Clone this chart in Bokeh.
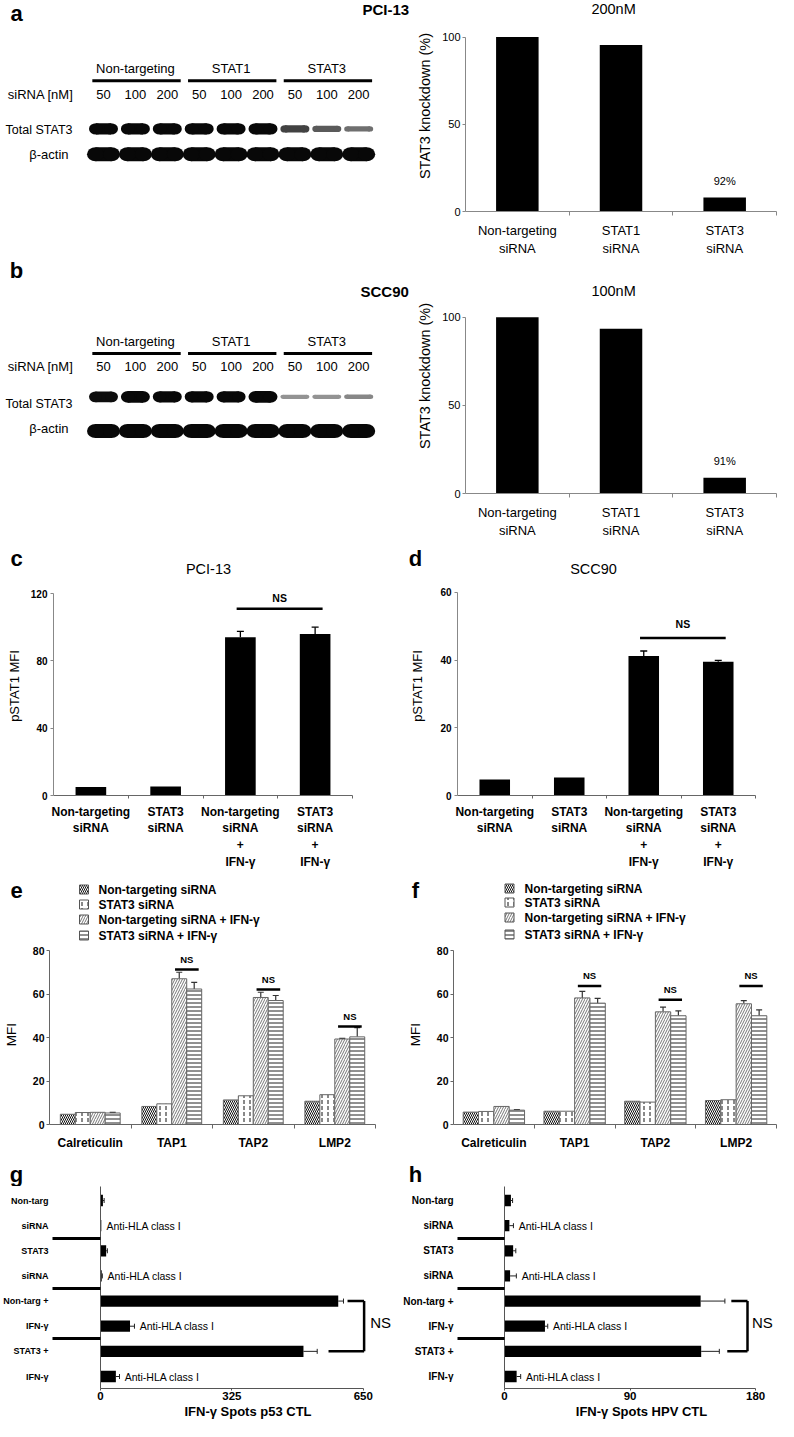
import numpy as np
from bokeh.plotting import figure
from bokeh.layouts import column, row
from bokeh.models import Range1d, FixedTicker, ColumnDataSource, Whisker, TeeHead
from bokeh.core.properties import value
from bokeh.embed import file_html
from bokeh.resources import INLINE

FONT = "Liberation Sans"

# ====================== DATA ======================
blot_groups = ["Non-targeting", "STAT1", "STAT3"]
blot_doses = ["50", "100", "200"]
a_stat3_band = [1.0, 1.0, 1.0, 1.0, 1.0, 1.0, 0.55, 0.42, 0.32]
a_actin_band = [1.0, 1.0, 1.0, 1.0, 1.0, 1.0, 1.0, 1.0, 1.0]
b_stat3_band = [0.9, 1.0, 0.95, 0.95, 0.95, 1.0, 0.18, 0.18, 0.22]
b_actin_band = [1.0, 1.0, 1.0, 1.0, 1.0, 1.0, 1.0, 1.0, 1.0]

kd_labels = ["Non-targeting\nsiRNA", "STAT1\nsiRNA", "STAT3\nsiRNA"]
a_kd = [100.0, 95.5, 8.0]
b_kd = [100.0, 93.5, 9.0]

mfi_labels = ["Non-targeting\nsiRNA", "STAT3\nsiRNA",
              "Non-targeting\nsiRNA\n+\nIFN-\u03b3", "STAT3\nsiRNA\n+\nIFN-\u03b3"]
c_vals = [5.0, 5.4, 94.0, 96.0]
c_errs = [0.0, 0.0, 3.5, 4.0]
c_ns_level = 111.0
d_vals = [4.7, 5.3, 41.2, 39.5]
d_errs = [0.0, 0.0, 1.5, 0.4]
d_ns_level = 46.5

ef_genes = ["Calreticulin", "TAP1", "TAP2", "LMP2"]
ef_series = ["Non-targeting siRNA", "STAT3 siRNA",
             "Non-targeting siRNA + IFN-\u03b3", "STAT3 siRNA + IFN-\u03b3"]
e_nt = [4.7, 8.3, 11.3, 10.7]
e_st3 = [5.5, 9.5, 13.2, 13.7]
e_nt_ifn = [5.6, 67.0, 58.4, 39.3]
e_st3_ifn = [5.3, 62.3, 57.0, 40.3]
e_nt_ifn_err = [0.0, 3.0, 2.4, 0.3]
e_st3_ifn_err = [0.3, 3.0, 2.3, 4.2]
e_ns_level = [71.3, 62.1, 45.1]
f_nt = [5.7, 6.1, 10.7, 11.0]
f_st3 = [6.0, 6.1, 10.3, 11.4]
f_nt_ifn = [8.3, 58.2, 51.8, 55.5]
f_st3_ifn = [6.6, 55.8, 50.0, 50.0]
f_nt_ifn_err = [0.0, 3.0, 2.2, 1.5]
f_st3_ifn_err = [0.3, 2.2, 2.2, 2.7]
f_ns_level = [63.7, 57.4, 63.7]

gh_rows = ["Non-targ", "siRNA", "STAT3", "siRNA", "Non-targ +", "IFN-\u03b3", "STAT3 +", "IFN-\u03b3"]
gh_anti = [False, True, False, True, False, True, False, True]
g_vals = [6.0, 2.0, 14.0, 3.0, 588.0, 73.0, 502.0, 38.0]
g_errs = [3.0, 0.0, 3.0, 1.5, 13.0, 11.0, 34.0, 9.0]
h_vals = [4.6, 3.5, 6.2, 4.0, 140.6, 29.0, 141.0, 8.7]
h_errs = [1.2, 2.9, 1.9, 4.5, 17.4, 2.0, 13.0, 2.9]

SERIES_STYLE = [
    dict(hatch_pattern="\\", hatch_color="#111111", hatch_scale=4, hatch_weight=1),
    dict(hatch_pattern=":", hatch_color="#111111", hatch_scale=6, hatch_weight=1),
    dict(hatch_pattern="/", hatch_color="#777777", hatch_scale=5, hatch_weight=1),
    dict(hatch_pattern="-", hatch_color="#222222", hatch_scale=4, hatch_weight=1),
]

LANE0_PX, LANE_PX = 103.0, 31.9


# ====================== HELPERS ======================
def make_fig(fx0, fy0, fw, fh, fl, fr, ft, fb, xa, ya, axes=True):
    (xv1, xp1), (xv2, xp2) = xa
    (yv1, yp1), (yv2, yp2) = ya
    kx = (xv2 - xv1) / (xp2 - xp1)
    ky = (yv2 - yv1) / (yp2 - yp1)
    fx = lambda px: xv1 + (px - xp1) * kx
    fy = lambda py: yv1 + (py - yp1) * ky
    kw = {}
    if not axes:
        kw = dict(x_axis_location=None, y_axis_location=None)
    p = figure(width=fw, height=fh, x_range=Range1d(fx(fl), fx(fr)),
               y_range=Range1d(fy(fb), fy(ft)),
               min_border_left=fl - fx0, min_border_right=fx0 + fw - fr,
               min_border_top=ft - fy0, min_border_bottom=fy0 + fh - fb,
               output_backend="svg", toolbar_location=None, **kw)
    p.xgrid.visible = False
    p.ygrid.visible = False
    p.outline_line_color = None
    p.background_fill_color = "white"
    p.border_fill_color = "white"
    return p, fx, fy, kx, ky


def up(ky, n):
    return -n * ky


def txt(p, xs, ys, texts, size, bold=False, align="center", baseline="middle", color="black"):
    p.text(x=list(xs), y=list(ys), text=list(texts), text_font=value(FONT),
           text_font_size=size, text_font_style="bold" if bold else "normal",
           text_align=align, text_baseline=baseline, text_color=color)


def header(fy0, fh):
    p, fx, fy, kx, ky = make_fig(0, fy0, 778, fh, 0, 778, fy0, fy0 + fh,
                                 ((0, 0), (1, 1)), ((0, 0), (1, 1)), axes=False)
    return p


def style_axis(ax, size, bold, color):
    ax.axis_line_color = color
    ax.axis_line_width = 1
    ax.major_tick_line_color = color
    ax.minor_tick_line_color = color
    ax.major_tick_in = 0
    ax.minor_tick_in = 0
    ax.minor_tick_out = 0
    ax.major_label_text_font = FONT
    ax.major_label_text_font_size = size
    ax.major_label_text_font_style = "bold" if bold else "normal"
    ax.major_label_text_color = "black"
    ax.axis_label_text_font = FONT
    ax.axis_label_text_font_style = "normal"
    ax.axis_label_text_color = "black"


def gray(v):
    lev = int(round(255 * (1 - min(1.0, v) ** 0.5)))
    lev = max(8, lev)
    return "#%02x%02x%02x" % (lev, lev, lev)


# ====================== BLOTS ======================
def blot(fy0, fy1, stat3, actin, ys, letter_xy, letter_s, title, title_xy):
    p, fx, fy, kx, ky = make_fig(0, fy0, 414, fy1 - fy0, 0, 414, fy0, fy1,
                                 ((0, LANE0_PX), (1, LANE0_PX + LANE_PX)),
                                 ((fy0, fy0), (fy1, fy1)), axes=False)
    lanes = list(range(9))
    for band, yb, base, span, wpx in ((stat3, ys["stat3"], 3, 11, 29.0),
                                      (actin, ys["actin"], 3, 14, 33.0)):
        hs = [base + span * v for v in band]
        cols = [gray(v) for v in band]
        core_w = [(wpx - h) / LANE_PX for h in hs]
        cap_w = [h / LANE_PX for h in hs]
        src = ColumnDataSource(dict(x=lanes, y=[yb] * 9, h=hs, c=cols, cw=core_w, ew=cap_w,
                                    xl=[x - cw / 2 for x, cw in zip(lanes, core_w)],
                                    xr=[x + cw / 2 for x, cw in zip(lanes, core_w)]))
        p.rect(x="x", y="y", width="cw", height="h", fill_color="c", line_color=None, source=src)
        p.ellipse(x="xl", y="y", width="ew", height="h", fill_color="c", line_color=None, source=src)
        p.ellipse(x="xr", y="y", width="ew", height="h", fill_color="c", line_color=None, source=src)
    txt(p, [3 * g + 1 for g in range(3)], [ys["group"]] * 3, blot_groups, "13px")
    p.segment(x0=[3 * g - 0.35 for g in range(3)], x1=[3 * g + 2.42 for g in range(3)],
              y0=[ys["line"]] * 3, y1=[ys["line"]] * 3, line_width=3, line_color="black")
    txt(p, lanes, [ys["dose"]] * 9, blot_doses * 3, "13px")
    txt(p, [fx(73)], [ys["dose"]], ["siRNA [nM]"], "13px", align="right")
    txt(p, [fx(72)], [ys["stat3_t"]], ["Total STAT3"], "12.5px", align="right")
    txt(p, [fx(68)], [ys["actin_t"]], ["\u03b2-actin"], "13px", align="right")
    txt(p, [fx(letter_xy[0])], [fy(letter_xy[1])], [letter_s], "22px", bold=True)
    txt(p, [fx(title_xy[0])], [fy(title_xy[1])], [title], "15px", bold=True, align="left")
    return p


def kd_chart(fy0, fy1, vals, y0px, y100px, title, title_py, xlab_standoff):
    p, fx, fy, kx, ky = make_fig(414, fy0, 364, fy1 - fy0, 463, 778, fy0, y0px,
                                 ((0, 463), (3, 776)), ((0, y0px), (100, y100px)))
    xs = [0.5, 1.5, 2.5]
    p.vbar(x=xs, top=vals, width=0.41, bottom=0, fill_color="black", line_color=None)
    txt(p, [fx(612)], [fy(title_py)], [title], "14.5px")
    txt(p, [xs[2]], [vals[2] + up(ky, 17)], ["%.0f%%" % (100 - vals[2])], "11px")
    yax = p.yaxis[0]
    style_axis(yax, "11px", False, "#888888")
    yax.ticker = FixedTicker(ticks=[0, 50, 100])
    yax.bounds = (0, 100)
    yax.major_tick_out = 3
    yax.major_label_standoff = 2
    yax.axis_label = "STAT3 knockdown (%)"
    yax.axis_label_text_font_size = "14.5px"
    yax.axis_label_standoff = 6
    xax = p.xaxis[0]
    style_axis(xax, "13px", False, "#888888")
    xax.ticker = FixedTicker(ticks=xs, minor_ticks=[1, 2, 3])
    xax.bounds = (0, 3)
    xax.major_label_overrides = {x: l for x, l in zip(xs, kd_labels)}
    xax.major_tick_out = 0
    xax.minor_tick_out = 4
    xax.major_label_standoff = xlab_standoff
    return p


def mfi_chart(fx0, fw, fl, fr, x4px, y0px, ytop, ytoppx, ticks, vals, errs, ns_level,
              ns_gap, ylab_standoff):
    p, fx, fy, kx, ky = make_fig(fx0, 576, fw, 296, fl, fr, 576, y0px,
                                 ((0, fl), (4, x4px)), ((0, y0px), (ytop, ytoppx)))
    xs = [0.5, 1.5, 2.5, 3.5]
    p.vbar(x=xs, top=vals, width=0.41, bottom=0, fill_color="black", line_color=None)
    idx = [i for i in range(4) if errs[i] > 0]
    wsrc = ColumnDataSource(dict(x=[xs[i] for i in idx], lo=[vals[i] for i in idx],
                                 hi=[vals[i] + errs[i] for i in idx]))
    p.add_layout(Whisker(source=wsrc, base="x", lower="lo", upper="hi", dimension="height",
                         line_width=1.3, line_color="black", lower_head=None,
                         upper_head=TeeHead(size=7, line_width=1.3, line_color="black")))
    x0, x1 = xs[2] - 0.05, xs[3] + 0.1
    p.segment(x0=[x0], y0=[ns_level], x1=[x1], y1=[ns_level], line_width=2.5, line_color="black")
    txt(p, [(x0 + x1) / 2], [ns_level + up(ky, ns_gap)], ["NS"], "10.5px", bold=True)
    yax = p.yaxis[0]
    style_axis(yax, "10px", True, "#888888")
    yax.ticker = FixedTicker(ticks=ticks)
    yax.bounds = (0, ytop)
    yax.major_tick_out = 3
    yax.major_label_standoff = 3
    yax.axis_label = "pSTAT1 MFI"
    yax.axis_label_text_font_size = "13px"
    yax.axis_label_standoff = ylab_standoff
    xax = p.xaxis[0]
    style_axis(xax, "12px", True, "#666666")
    xax.ticker = FixedTicker(ticks=xs, minor_ticks=[1, 2, 3, 4])
    xax.bounds = (0, 4)
    xax.major_label_overrides = {x: l for x, l in zip(xs, mfi_labels)}
    xax.major_tick_out = 0
    xax.minor_tick_out = 3
    xax.major_label_standoff = 6
    return p


def gene_chart(fx0, fw, fl, fr, x4px, y80px, series, err3, err4, ns_levels, bw, ylab_standoff):
    p, fx, fy, kx, ky = make_fig(fx0, 944, fw, 216, fl, fr, 944, 1124,
                                 ((0, fl), (4, x4px)), ((0, 1124), (80, y80px)))
    for k, vals in enumerate(series):
        xs = [i + 0.5 + (k - 1.5) * bw for i in range(4)]
        p.vbar(x=xs, top=vals, width=bw, bottom=0, fill_color="white", line_color="#666666",
               line_width=1, **SERIES_STYLE[k])
    for k, errs in ((2, err3), (3, err4)):
        idx = [i for i in range(4) if errs[i] > 0]
        wsrc = ColumnDataSource(dict(x=[i + 0.5 + (k - 1.5) * bw for i in idx],
                                     lo=[series[k][i] for i in idx],
                                     hi=[series[k][i] + errs[i] for i in idx]))
        p.add_layout(Whisker(source=wsrc, base="x", lower="lo", upper="hi", dimension="height",
                             line_width=1.2, line_color="#333333", lower_head=None,
                             upper_head=TeeHead(size=6, line_width=1.2, line_color="#333333")))
    gx = [1, 2, 3]
    p.segment(x0=[i + 0.54 for i in gx], x1=[i + 0.83 for i in gx], y0=ns_levels, y1=ns_levels,
              line_width=2.5, line_color="black")
    txt(p, [i + 0.685 for i in gx], [v + up(ky, 10) for v in ns_levels], ["NS"] * 3, "9.5px", bold=True)
    yax = p.yaxis[0]
    style_axis(yax, "10.5px", True, "#666666")
    yax.ticker = FixedTicker(ticks=[0, 20, 40, 60, 80])
    yax.bounds = (0, 80)
    yax.major_tick_out = 3
    yax.major_label_standoff = 2
    yax.axis_label = "MFI"
    yax.axis_label_text_font_size = "13.5px"
    yax.axis_label_standoff = ylab_standoff
    xax = p.xaxis[0]
    style_axis(xax, "12px", True, "#666666")
    xax.ticker = FixedTicker(ticks=[0.5, 1.5, 2.5, 3.5], minor_ticks=[1, 2, 3, 4])
    xax.bounds = (0, 4)
    xax.major_label_overrides = {i + 0.5: g for i, g in enumerate(ef_genes)}
    xax.major_tick_out = 0
    xax.minor_tick_out = 4
    xax.major_label_standoff = 7
    return p


def legend(p, sw_px, tx_px, rows_py):
    for k in range(4):
        p.scatter(x=[sw_px], y=[rows_py[k]], marker="square", size=9, fill_color="white",
                  line_color="#555555", **SERIES_STYLE[k])
    txt(p, [tx_px] * 4, rows_py, ef_series, "12px", bold=True, align="left")


def spots_chart(fx0, fw, fl, fr, xmax, xmaxpx, row0px, row7px, vals, errs, ticks, xlabel,
                bx, bstarts, ytick_size, sep_len, ns_gap):
    p, fx, fy, kx, ky = make_fig(fx0, 1186, fw, 235, fl, fr, 1186, 1388,
                                 ((0, fl), (xmax, xmaxpx)), ((0, row0px), (7, row7px)))
    rows = list(range(8))
    p.hbar(y=rows, right=vals, left=0, height=0.45, fill_color="black", line_color=None)
    idx = [i for i in rows if errs[i] > 0]
    wsrc = ColumnDataSource(dict(y=idx, lo=[vals[i] for i in idx],
                                 hi=[vals[i] + errs[i] for i in idx]))
    p.add_layout(Whisker(source=wsrc, base="y", lower="lo", upper="hi", dimension="width",
                         line_width=1, line_color="#222222", lower_head=None,
                         upper_head=TeeHead(size=5, line_width=1, line_color="#222222")))
    ai = [i for i in rows if gh_anti[i]]
    txt(p, [vals[i] + errs[i] + 6 * kx for i in ai], ai, ["Anti-HLA class I"] * len(ai),
        "10.5px", align="left")
    p.segment(x0=[bx, bstarts[0], bstarts[1]], y0=[4, 4, 6], x1=[bx, bx, bx], y1=[6, 4, 6],
              line_width=2.5, line_color="black")
    txt(p, [bx + ns_gap * kx], [5 + up(ky, 4)], ["NS"], "15px", align="left")
    xax = p.xaxis[0]
    style_axis(xax, "11.5px", True, "#555555")
    xax.ticker = FixedTicker(ticks=ticks)
    xax.bounds = (0, xmax)
    xax.major_tick_out = 2
    xax.major_label_standoff = 1
    xax.axis_label = xlabel
    xax.axis_label_text_font_size = "13px"
    xax.axis_label_text_font_style = "bold"
    xax.axis_label_standoff = 1
    yax = p.yaxis[0]
    style_axis(yax, ytick_size, True, "#555555")
    yax.ticker = FixedTicker(ticks=rows, minor_ticks=[1.5, 3.5, 5.5])
    yax.major_label_overrides = {i: l for i, l in enumerate(gh_rows)}
    yax.major_tick_out = 0
    yax.major_label_standoff = 4
    yax.minor_tick_out = sep_len
    yax.minor_tick_line_width = 3
    yax.minor_tick_line_color = "black"
    return p


# ====================== BUILD ======================
pa1 = blot(0, 258, a_stat3_band, a_actin_band,
           dict(group=83, line=98, dose=115, stat3=157, actin=188, stat3_t=158, actin_t=188),
           (16, 16), "a", "PCI-13", (362, 11))
pa2 = kd_chart(0, 258, a_kd, 219, 38, "200nM", 9, 7)
pb1 = blot(258, 540, b_stat3_band, b_actin_band,
           dict(group=357, line=372, dose=387, stat3=424, actin=465, stat3_t=432, actin_t=462),
           (16, 272), "b", "SCC90", (360, 298))
pb2 = kd_chart(258, 540, b_kd, 498, 318, "100nM", 291, 7)

h3 = header(540, 36)
txt(h3, [16, 415], [558, 558], ["c", "d"], "22px", bold=True)
txt(h3, [208, 593], [568, 568], ["PCI-13", "SCC90"], "14.5px")

pc = mfi_chart(0, 400, 53, 398, 352, 795, 120, 593, [0, 40, 80, 120], c_vals, c_errs, c_ns_level,
               11, 6)
pd = mfi_chart(400, 378, 457, 778, 755, 796, 60, 592, [0, 20, 40, 60], d_vals, d_errs, d_ns_level,
               14, 12)

h4 = header(872, 72)
txt(h4, [16, 415], [890, 890], ["e", "f"], "22px", bold=True)
legend(h4, 83.5, 98, [889, 904, 919, 935])
legend(h4, 509, 524, [888, 902, 917, 934])

pe = gene_chart(0, 400, 48, 398, 375, 950, [e_nt, e_st3, e_nt_ifn, e_st3_ifn],
                e_nt_ifn_err, e_st3_ifn_err, e_ns_level, 0.1835, 11)
pf = gene_chart(400, 378, 453, 778, 776, 950, [f_nt, f_st3, f_nt_ifn, f_st3_ifn],
                f_nt_ifn_err, f_st3_ifn_err, f_ns_level, 0.19, 11)

h5 = header(1160, 26)
txt(h5, [16, 415], [1174, 1174], ["g", "h"], "22px", bold=True)

pg = spots_chart(0, 400, 56, 395, 650, 358, 1200, 1376, g_vals, g_errs, [0, 325, 650],
                 "IFN-\u03b3 Spots p53 CTL", 652, (611, 564), "9px", 48, 7)
ph = spots_chart(400, 378, 467, 778, 180, 752, 1200, 1376, h_vals, h_errs, [0, 90, 180],
                 "IFN-\u03b3 Spots HPV CTL", 174.2, (162.6, 159.7), "10px", 47, 5)

layout = column(row(pa1, pa2), row(pb1, pb2), h3, row(pc, pd), h4, row(pe, pf), h5, row(pg, ph))
open("out.html", "w").write(file_html(layout, INLINE, title="STAT3 siRNA figure"))
